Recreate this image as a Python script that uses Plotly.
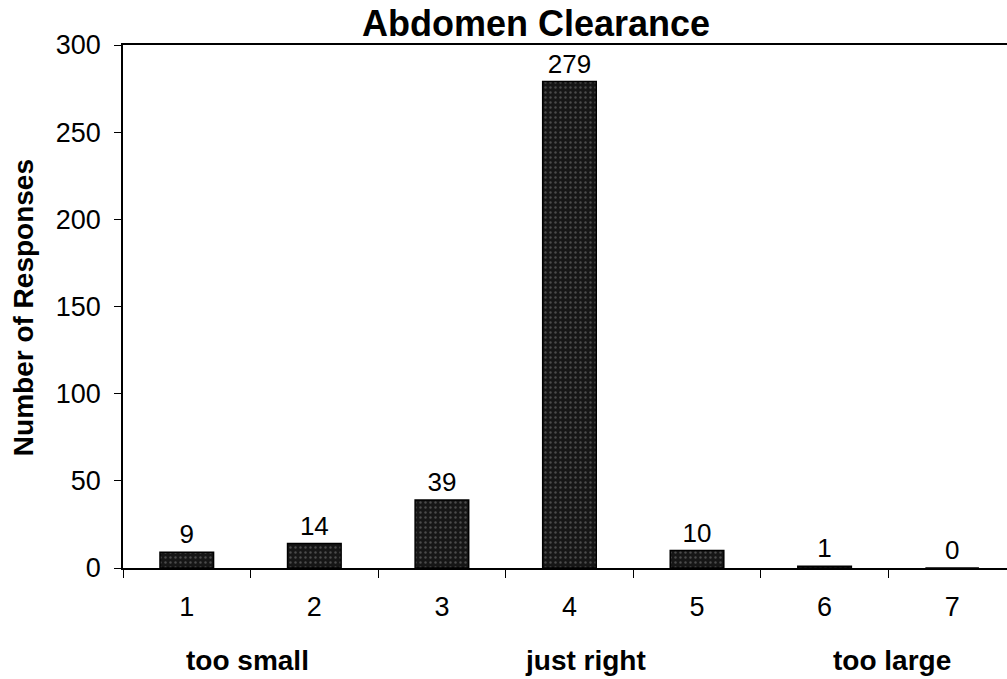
import plotly.graph_objects as go

# Survey responses for abdomen clearance on a 7-point scale
categories = ["1", "2", "3", "4", "5", "6", "7"]
responses = [9, 14, 39, 279, 10, 1, 0]
y_ticks = [0, 50, 100, 150, 200, 250, 300]
scale_labels = ["too small", "just right", "too large"]
scale_label_x = [0.141, 0.523, 0.870]   # paper x of the scale anchors

FONT = "Liberation Sans, Arial, Helvetica, sans-serif"

fig = go.Figure(
    go.Bar(
        x=categories,
        y=responses,
        width=0.42,
        marker=dict(
            color="#1a1a1a",
            line=dict(color="black", width=1.5),
            pattern=dict(shape=".", bgcolor="#161616", fgcolor="#808080",
                         size=5, solidity=0.18),
        ),
        texttemplate="%{y}",
        textposition="outside",
        textfont=dict(family=FONT, size=26, color="black"),
        cliponaxis=False,
    )
)

fig.update_layout(
    width=1007,
    height=679,
    margin=dict(l=123, r=0, t=45, b=111),
    paper_bgcolor="white",
    plot_bgcolor="white",
    showlegend=False,
    font=dict(family=FONT, color="black"),
)

fig.update_xaxes(
    type="category",
    range=[-0.5, 6.43],
    showline=True, linecolor="black", linewidth=1.5,
    mirror=True,
    ticks="outside", ticklen=8, tickwidth=1.2, tickcolor="black",
    tickson="boundaries",
    tickfont=dict(size=27),
    ticklabelstandoff=14,
    showgrid=False,
    zeroline=False,
)

fig.update_yaxes(
    range=[0, 300],
    tickvals=y_ticks,
    showline=True, linecolor="black", linewidth=1.5,
    ticks="outside", ticklen=7, tickwidth=1.2, tickcolor="black",
    tickfont=dict(size=27),
    ticklabelstandoff=8,
    showgrid=False,
    zeroline=False,
)

annotations = [
    dict(text="<b>Abdomen Clearance</b>", xref="paper", yref="paper",
         x=0.467, y=1.042, xanchor="center", yanchor="middle",
         showarrow=False, font=dict(size=36)),
    dict(text="<b>Number of Responses</b>", xref="paper", yref="paper",
         x=-0.113, y=0.497, xanchor="center", yanchor="middle",
         textangle=-90, showarrow=False, font=dict(size=28)),
]
for label, px in zip(scale_labels, scale_label_x):
    annotations.append(
        dict(text=f"<b>{label}</b>", xref="paper", yref="paper",
             x=px, y=-0.176, xanchor="center", yanchor="middle",
             showarrow=False, font=dict(size=28))
    )
fig.update_layout(annotations=annotations)

fig.write_html("out.html")
